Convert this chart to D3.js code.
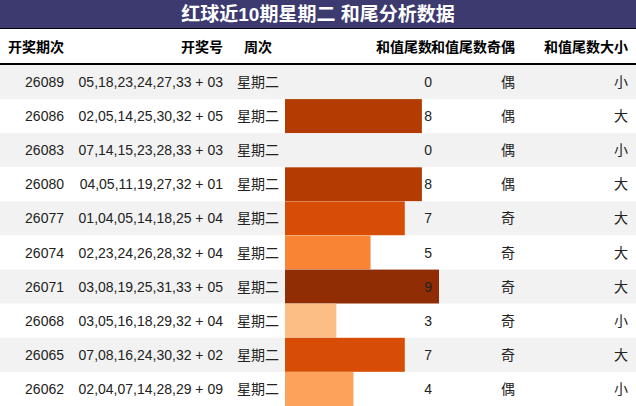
<!DOCTYPE html>
<html><head><meta charset="utf-8">
<script src="https://cdn.jsdelivr.net/npm/d3@7"></script>
<style>body{margin:0;background:#fff}text{font-family:"Liberation Sans","Noto Sans CJK SC",sans-serif}</style>
</head><body><svg id="c" width="636" height="406"></svg>
<script>
const title = '红球近10期星期二 和尾分析数据';
const headers = ['开奖期次', '开奖号', '周次', '和值尾数', '和值尾数奇偶', '和值尾数大小'];
const issues = ['26089', '26086', '26083', '26080', '26077', '26074', '26071', '26068', '26065', '26062'];
const numbers = ['05,18,23,24,27,33 + 03', '02,05,14,25,30,32 + 05', '07,14,15,23,28,33 + 03', '04,05,11,19,27,32 + 01',
  '01,04,05,14,18,25 + 04', '02,23,24,26,28,32 + 04', '03,08,19,25,31,33 + 05', '03,05,16,18,29,32 + 04',
  '07,08,16,24,30,32 + 02', '02,04,07,14,28,29 + 09'];
const weekday = '星期二';
const tails = [0, 8, 0, 8, 7, 5, 9, 3, 7, 4];
const parity = ['偶', '偶', '偶', '偶', '奇', '奇', '奇', '奇', '奇', '偶'];
const size = ['小', '大', '小', '大', '大', '大', '大', '小', '大', '小'];

const svg = d3.select('#c');
const W = 636;
svg.append('rect').attr('width', W).attr('height', 28).attr('fill', '#3c3a6e');
svg.append('text').attr('x', W / 2).attr('y', 21).attr('text-anchor', 'middle')
  .attr('fill', '#fff').attr('font-size', 19).attr('font-weight', 'bold').text(title);
svg.append('line').attr('x1', 0).attr('x2', W).attr('y1', 28.5).attr('y2', 28.5).attr('stroke', '#000');

const y = d3.scaleBand().domain(issues).range([65, 406]);
const x = d3.scaleLinear().domain([0, 9]).range([285, 439]);
const color = d3.scaleSequential(d3.interpolateOranges).domain([0, 9.5]);

const hx = [[8, 'start'], [223, 'end'], [258, 'middle'], [432, 'end'], [515, 'end'], [628, 'end']];
headers.forEach((h, i) => svg.append('text').attr('x', hx[i][0]).attr('y', 52)
  .attr('text-anchor', hx[i][1]).attr('font-size', 14).attr('font-weight', 'bold').text(h));
svg.append('line').attr('x1', 0).attr('x2', W).attr('y1', 64).attr('y2', 64).attr('stroke', '#000').attr('stroke-width', 2);

const rows = svg.selectAll('g.row').data(issues).join('g').attr('transform', (d) => `translate(0,${y(d)})`);
rows.append('rect').attr('width', W).attr('height', y.bandwidth())
  .attr('fill', (d, i) => (i % 2 === 0 ? '#f2f2f2' : '#fff'));
rows.append('rect').attr('x', x(0)).attr('height', y.bandwidth())
  .attr('width', (d, i) => x(tails[i]) - x(0)).attr('fill', (d, i) => color(tails[i]));
const ty = y.bandwidth() / 2 + 5;
const cell = (px, anchor, f) => rows.append('text').attr('x', px).attr('y', ty)
  .attr('text-anchor', anchor).attr('font-size', 14).attr('fill', '#222').text(f);
cell(64, 'end', (d) => d);
cell(223, 'end', (d, i) => numbers[i]);
cell(258, 'middle', () => weekday);
cell(432, 'end', (d, i) => tails[i]);
cell(515, 'end', (d, i) => parity[i]);
cell(628, 'end', (d, i) => size[i]);
</script></body></html>
